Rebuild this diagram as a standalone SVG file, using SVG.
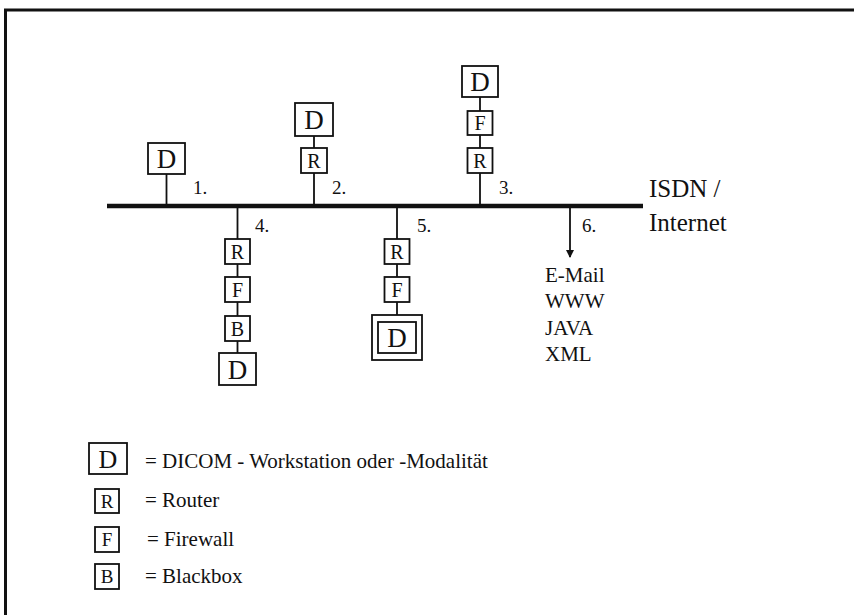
<svg xmlns="http://www.w3.org/2000/svg" width="854" height="615" viewBox="0 0 854 615">
<defs>
<style>
.bx{fill:#fff;stroke:#111;stroke-width:1.8}
.ln{stroke:#111;stroke-width:1.8;fill:none}
.t{font-family:"Liberation Serif","Times New Roman",serif;fill:#111}
.bl{font-size:27px;text-anchor:middle}
.sl{font-size:20px;text-anchor:middle}
.num{font-size:19px}
.lab{font-size:21px}
</style>
<marker id="ah" markerWidth="8" markerHeight="8" refX="7" refY="4" orient="auto" markerUnits="userSpaceOnUse">
<path d="M0,0 L8,4 L0,8 Z" fill="#111"/>
</marker>
</defs>
<rect x="0" y="0" width="854" height="615" fill="#fff"/>
<path d="M5.5,615 L5.5,10 L854,10" fill="none" stroke="#111" stroke-width="3"/>

<g id="connectors">
<line x1="107" y1="206" x2="643" y2="206" stroke="#111" stroke-width="4.5"/>
<path class="ln" d="M166.5,174 V206"/>
<path class="ln" d="M314,136 V148 M314,173 V206"/>
<path class="ln" d="M480,97 V111 M480,135 V148 M480,173 V206"/>
<path class="ln" d="M237.5,206 V239 M237.5,264 V277 M237.5,302 V316 M237.5,341 V353"/>
<path class="ln" d="M397,206 V239 M397,264 V277 M397,302 V315"/>
<path class="ln" d="M570,206 V257" marker-end="url(#ah)"/>
</g>

<g id="node1">
<rect class="bx" x="148" y="143" width="37" height="31"/>
<text class="t bl" x="166.5" y="168">D</text>
<text class="t num" x="193" y="194">1.</text>
</g>

<g id="node2">
<rect class="bx" x="295" y="103" width="38" height="33"/>
<text class="t bl" x="314" y="129">D</text>
<rect class="bx" x="301" y="148" width="26" height="25"/>
<text class="t sl" x="314" y="168">R</text>
<text class="t num" x="332" y="194">2.</text>
</g>

<g id="node3">
<rect class="bx" x="462" y="66" width="36" height="31"/>
<text class="t bl" x="480" y="91">D</text>
<rect class="bx" x="467.5" y="111" width="25" height="24"/>
<text class="t sl" x="480" y="130">F</text>
<rect class="bx" x="467.5" y="148" width="25" height="25"/>
<text class="t sl" x="480" y="168">R</text>
<text class="t num" x="499" y="194">3.</text>
</g>

<g id="node4">
<rect class="bx" x="225" y="239" width="25" height="25"/>
<text class="t sl" x="237.5" y="259">R</text>
<rect class="bx" x="225" y="277" width="25" height="25"/>
<text class="t sl" x="237.5" y="297">F</text>
<rect class="bx" x="225" y="316" width="25" height="25"/>
<text class="t sl" x="237.5" y="336">B</text>
<rect class="bx" x="219" y="353" width="37" height="32"/>
<text class="t bl" x="237.5" y="379">D</text>
<text class="t num" x="255" y="232">4.</text>
</g>

<g id="node5">
<rect class="bx" x="384.5" y="239" width="25" height="25"/>
<text class="t sl" x="397" y="259">R</text>
<rect class="bx" x="384.5" y="277" width="25" height="25"/>
<text class="t sl" x="397" y="297">F</text>
<rect class="bx" x="372" y="315" width="50" height="45"/>
<rect class="bx" x="378" y="322" width="38" height="31"/>
<text class="t bl" x="397" y="347">D</text>
<text class="t num" x="417" y="232">5.</text>
</g>

<g id="node6">
<text class="t num" x="582" y="232">6.</text>
<text class="t lab" x="545" y="282">E-Mail</text>
<text class="t lab" x="545" y="308">WWW</text>
<text class="t lab" x="545" y="335">JAVA</text>
<text class="t lab" x="545" y="361">XML</text>
</g>

<g id="network-label">
<text class="t" font-size="25" x="649" y="197">ISDN /</text>
<text class="t" font-size="25" x="649" y="231">Internet</text>
</g>

<g id="legend">
<rect class="bx" x="89" y="443" width="38" height="31"/>
<text class="t" font-size="26" text-anchor="middle" x="108" y="468">D</text>
<text class="t lab" x="145" y="468">= DICOM - Workstation oder -Modalität</text>
<rect class="bx" x="95" y="489" width="24" height="24"/>
<text class="t" font-size="19" text-anchor="middle" x="107" y="508">R</text>
<text class="t lab" x="145" y="507">= Router</text>
<rect class="bx" x="95" y="527" width="24" height="25"/>
<text class="t" font-size="19" text-anchor="middle" x="107" y="546">F</text>
<text class="t lab" x="147" y="546">= Firewall</text>
<rect class="bx" x="95" y="564" width="24" height="25"/>
<text class="t" font-size="19" text-anchor="middle" x="107" y="583">B</text>
<text class="t lab" x="145" y="583">= Blackbox</text>
</g>
</svg>
